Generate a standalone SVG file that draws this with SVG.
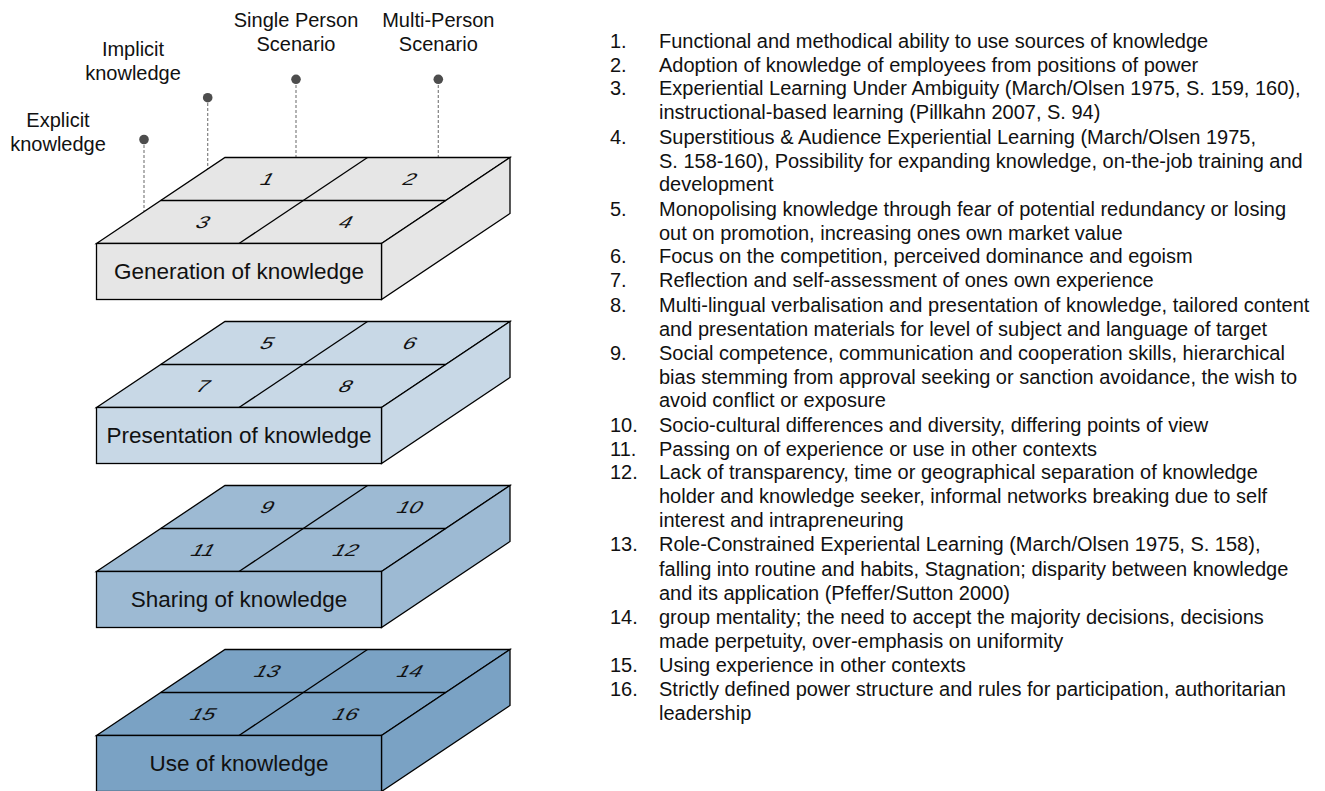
<svg xmlns="http://www.w3.org/2000/svg" width="1325" height="791" viewBox="0 0 1325 791">
  <style>
    .face { stroke: #000; stroke-width: 1.3; stroke-linejoin: miter; }
    .grid { stroke: #000; stroke-width: 1.3; fill: none; }
    .lbl { font-family: "Liberation Sans", Arial, sans-serif; font-size: 20px; fill: #111; text-anchor: middle; }
    .title { font-family: "Liberation Sans", Arial, sans-serif; font-size: 22.5px; fill: #111; text-anchor: middle; }
    .num { font-family: "Liberation Sans", Arial, sans-serif; font-size: 17px; fill: #111; text-anchor: middle; }
    .li { font-family: "Liberation Sans", Arial, sans-serif; font-size: 20px; fill: #111; }
    .pin { stroke: #808080; stroke-width: 1.2; stroke-dasharray: 3 2; fill: none; }
    .dot { fill: #4d4d4d; }
  </style>
  <defs>
    <!-- one slab: top face split in four cells, front face, right side face -->
    <g id="slab">
      <path class="face" d="M96.5,86 L225,0 L510,0 L381.5,86 Z"/>
      <path class="face" d="M381.5,86 L510,0 L510,56 L381.5,142 Z"/>
      <rect class="face" x="96.5" y="86" width="285" height="56"/>
      <line class="grid" x1="160.75" y1="43" x2="445.75" y2="43"/>
      <line class="grid" x1="367.5" y1="0" x2="239" y2="86"/>
    </g>
  </defs>

  <!-- axis labels with pins -->
  <g id="axis-labels">
    <g id="lbl-explicit">
      <text class="lbl" x="58" y="127">Explicit</text>
      <text class="lbl" x="58" y="151">knowledge</text>
      <line class="pin" x1="144" y1="140" x2="144" y2="211.5"/>
      <circle class="dot" cx="144" cy="139.5" r="4.8"/>
    </g>
    <g id="lbl-implicit">
      <text class="lbl" x="133" y="56">Implicit</text>
      <text class="lbl" x="133" y="80">knowledge</text>
      <line class="pin" x1="207.7" y1="98" x2="207.7" y2="169"/>
      <circle class="dot" cx="207.7" cy="97.7" r="4.8"/>
    </g>
    <g id="lbl-single">
      <text class="lbl" x="296" y="27">Single Person</text>
      <text class="lbl" x="296" y="51">Scenario</text>
      <line class="pin" x1="296" y1="80" x2="296" y2="157.5"/>
      <circle class="dot" cx="296" cy="79.3" r="4.8"/>
    </g>
    <g id="lbl-multi">
      <text class="lbl" x="438.3" y="27">Multi-Person</text>
      <text class="lbl" x="438.3" y="51">Scenario</text>
      <line class="pin" x1="438.3" y1="80" x2="438.3" y2="157.5"/>
      <circle class="dot" cx="438.3" cy="79.3" r="4.8"/>
    </g>
  </g>

  <!-- slab 1 -->
  <g id="generation">
    <use href="#slab" transform="translate(0,157.5)" fill="#e6e6e6"/>
    <text class="title" x="239" y="279">Generation of knowledge</text>
    <text class="num" transform="translate(264.4,184.5) skewX(-30) scale(1.3,1)">1</text>
    <text class="num" transform="translate(407,184.5) skewX(-30) scale(1.3,1)">2</text>
    <text class="num" transform="translate(200.2,227.5) skewX(-30) scale(1.3,1)">3</text>
    <text class="num" transform="translate(342.9,227.5) skewX(-30) scale(1.3,1)">4</text>
  </g>

  <!-- slab 2 -->
  <g id="presentation">
    <use href="#slab" transform="translate(0,321.5)" fill="#c8d8e6"/>
    <text class="title" x="239" y="443">Presentation of knowledge</text>
    <text class="num" transform="translate(264.4,348.5) skewX(-30) scale(1.3,1)">5</text>
    <text class="num" transform="translate(407,348.5) skewX(-30) scale(1.3,1)">6</text>
    <text class="num" transform="translate(200.2,391.5) skewX(-30) scale(1.3,1)">7</text>
    <text class="num" transform="translate(342.9,391.5) skewX(-30) scale(1.3,1)">8</text>
  </g>

  <!-- slab 3 -->
  <g id="sharing">
    <use href="#slab" transform="translate(0,485.5)" fill="#9dbad3"/>
    <text class="title" x="239" y="607">Sharing of knowledge</text>
    <text class="num" transform="translate(264.4,512.5) skewX(-30) scale(1.3,1)">9</text>
    <text class="num" transform="translate(407,512.5) skewX(-30) scale(1.3,1)">10</text>
    <text class="num" transform="translate(200.2,555.5) skewX(-30) scale(1.3,1)">11</text>
    <text class="num" transform="translate(342.9,555.5) skewX(-30) scale(1.3,1)">12</text>
  </g>

  <!-- slab 4 -->
  <g id="use">
    <use href="#slab" transform="translate(0,649.5)" fill="#7aa2c4"/>
    <text class="title" x="239" y="771">Use of knowledge</text>
    <text class="num" transform="translate(264.4,676.5) skewX(-30) scale(1.3,1)">13</text>
    <text class="num" transform="translate(407,676.5) skewX(-30) scale(1.3,1)">14</text>
    <text class="num" transform="translate(200.2,719.5) skewX(-30) scale(1.3,1)">15</text>
    <text class="num" transform="translate(342.9,719.5) skewX(-30) scale(1.3,1)">16</text>
  </g>

  <!-- connectors: the pins above are the only lines linking labels to the slab -->
  <g id="connectors"/>

  <!-- numbered legend -->
  <g id="legend" class="li">
    <text x="610" y="48">1.</text><text x="659" y="48">Functional and methodical ability to use sources of knowledge</text>
    <text x="610" y="72">2.</text><text x="659" y="72">Adoption of knowledge of employees from positions of power</text>
    <text x="610" y="95">3.</text><text x="659" y="95">Experiential Learning Under Ambiguity (March/Olsen 1975, S. 159, 160),</text>
    <text x="659" y="119">instructional-based learning (Pillkahn 2007, S. 94)</text>
    <text x="610" y="144">4.</text><text x="659" y="144">Superstitious &amp; Audience Experiential Learning (March/Olsen 1975,</text>
    <text x="659" y="168">S. 158-160), Possibility for expanding knowledge, on-the-job training and</text>
    <text x="659" y="191">development</text>
    <text x="610" y="216">5.</text><text x="659" y="216">Monopolising knowledge through fear of potential redundancy or losing</text>
    <text x="659" y="240">out on promotion, increasing ones own market value</text>
    <text x="610" y="263">6.</text><text x="659" y="263">Focus on the competition, perceived dominance and egoism</text>
    <text x="610" y="287">7.</text><text x="659" y="287">Reflection and self-assessment of ones own experience</text>
    <text x="610" y="312">8.</text><text x="659" y="312">Multi-lingual verbalisation and presentation of knowledge, tailored content</text>
    <text x="659" y="336">and presentation materials for level of subject and language of target</text>
    <text x="610" y="360">9.</text><text x="659" y="360">Social competence, communication and cooperation skills, hierarchical</text>
    <text x="659" y="384">bias stemming from approval seeking or sanction avoidance, the wish to</text>
    <text x="659" y="407">avoid conflict or exposure</text>
    <text x="610" y="432">10.</text><text x="659" y="432">Socio-cultural differences and diversity, differing points of view</text>
    <text x="610" y="456">11.</text><text x="659" y="456">Passing on of experience or use in other contexts</text>
    <text x="610" y="479">12.</text><text x="659" y="479">Lack of transparency, time or geographical separation of knowledge</text>
    <text x="659" y="503">holder and knowledge seeker, informal networks breaking due to self</text>
    <text x="659" y="527">interest and intrapreneuring</text>
    <text x="610" y="551">13.</text><text x="659" y="551">Role-Constrained Experiental Learning (March/Olsen 1975, S. 158),</text>
    <text x="659" y="576">falling into routine and habits, Stagnation; disparity between knowledge</text>
    <text x="659" y="600">and its application (Pfeffer/Sutton 2000)</text>
    <text x="610" y="624">14.</text><text x="659" y="624">group mentality; the need to accept the majority decisions, decisions</text>
    <text x="659" y="648">made perpetuity, over-emphasis on uniformity</text>
    <text x="610" y="672">15.</text><text x="659" y="672">Using experience in other contexts</text>
    <text x="610" y="696">16.</text><text x="659" y="696">Strictly defined power structure and rules for participation, authoritarian</text>
    <text x="659" y="720">leadership</text>
  </g>
</svg>
